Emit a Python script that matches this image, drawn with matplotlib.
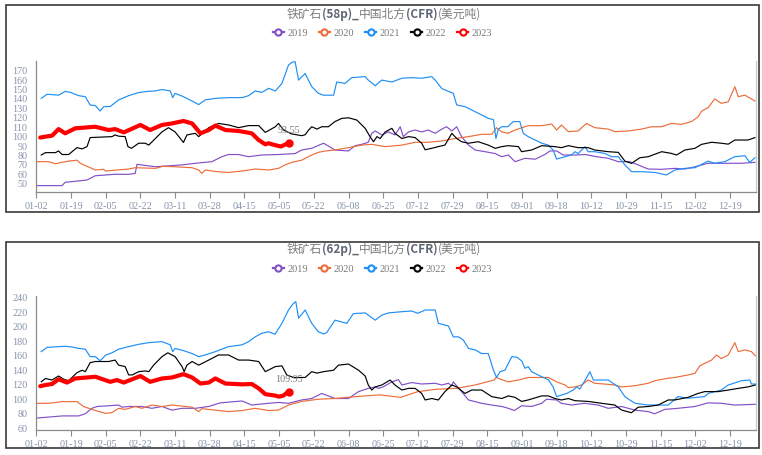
import numpy as np
import matplotlib
matplotlib.use('Agg')
import matplotlib.pyplot as plt
from matplotlib.lines import Line2D
from matplotlib.patches import Rectangle

plt.rcParams['font.family'] = ['Noto Sans CJK SC', 'DejaVu Sans']

years = ['2019', '2020', '2021', '2022', '2023']
colors = ['#8150c8', '#ec6d3a', '#1e8ff5', '#000000', '#ff0000']
date_labels = ['01-02', '01-19', '02-05', '02-22', '03-11', '03-28', '04-15',
               '05-05', '05-22', '06-08', '06-25', '07-12', '07-29', '08-15',
               '09-01', '09-18', '10-12', '10-29', '11-15', '12-02', '12-19']

# x is in label steps (0 = 01-02, 1 = 01-19, ...), y in USD/t
# ---- 58p ----
p58_2019 = [(0.02, 48), (0.74, 48), (0.83, 51.5), (1.22, 53), (1.46, 54), (1.7, 58.5), (2.27, 60), (2.66, 60),
            (2.85, 61), (2.9, 70.6), (3.43, 68), (3.81, 69), (4.2, 70), (4.58, 71.7), (5.06, 73.4), (5.35, 78.7),
            (5.54, 81), (5.83, 81), (6.12, 78.7), (6.5, 80.5), (6.98, 81), (7.46, 82), (7.65, 85.8), (7.94, 87.6),
            (8.28, 93), (8.61, 85.8), (9.0, 84.8), (9.19, 90.4), (9.38, 91.8), (9.57, 94), (9.67, 103.5),
            (9.77, 106), (9.96, 101.8), (10.15, 105), (10.34, 101.8), (10.49, 110.5), (10.58, 100), (10.73, 105),
            (10.92, 107), (11.11, 105), (11.3, 107), (11.5, 103.5), (11.69, 108), (11.83, 110.5), (11.98, 106),
            (12.12, 110.5), (12.26, 100), (12.46, 91), (12.65, 85.8), (12.94, 84), (13.23, 82), (13.42, 78.7),
            (13.61, 80.5), (13.8, 73.4), (14.09, 77), (14.38, 76), (14.66, 81), (14.81, 84.8), (15.0, 84.8),
            (15.19, 80.5), (15.53, 80.5), (15.82, 81), (16.15, 78.7), (16.49, 77), (16.78, 73.4), (17.11, 73.4),
            (17.35, 70), (17.64, 65.6), (18.03, 65.3), (18.41, 66.3), (18.7, 65.6), (18.99, 68), (19.37, 71.7),
            (19.75, 71.7), (20.33, 71.7), (20.72, 72.7)]
p58_2020 = [(0.02, 73.4), (0.35, 73.4), (0.55, 71.2), (0.74, 72.7), (0.93, 74), (1.17, 75), (1.27, 71.6),
            (1.7, 64.6), (1.94, 65.3), (1.99, 63.5), (2.66, 65.6), (2.85, 67), (3.43, 66.3), (3.65, 68.5), (4.0, 68),
            (4.49, 67), (4.68, 64.6), (4.77, 61), (4.87, 64.6), (5.16, 63), (5.54, 62), (5.93, 63.5), (6.31, 65.6),
            (6.7, 64.6), (6.98, 66.3), (7.17, 70), (7.37, 72.7), (7.65, 75), (7.94, 80.5), (8.13, 83.3),
            (8.33, 84.8), (8.61, 85.8), (9.0, 88.3), (9.38, 91), (9.67, 91.8), (10.06, 89.4), (10.54, 91),
            (10.92, 94), (11.3, 94), (11.69, 95.4), (12.07, 98), (12.46, 100), (12.84, 102.5), (13.13, 102.5),
            (13.27, 109.5), (13.42, 105), (13.6, 103.5), (13.8, 107), (14.18, 111.6), (14.57, 111.6),
            (14.86, 113.4), (15.0, 107), (15.14, 112.3), (15.34, 105.3), (15.62, 106), (15.86, 114), (16.1, 109.5),
            (16.49, 108), (16.68, 105.3), (17.07, 106), (17.45, 108), (17.74, 110.5), (18.03, 110.5), (18.31, 114),
            (18.6, 113), (18.89, 116), (19.08, 121), (19.18, 127), (19.37, 130.8), (19.56, 140), (19.75, 135.4),
            (19.95, 137), (20.14, 153), (20.24, 142.4), (20.43, 144), (20.72, 137.8)]
p58_2021 = [(0.14, 140.6), (0.31, 145), (0.64, 144), (0.83, 148), (0.98, 147), (1.22, 143.5), (1.41, 142.4),
            (1.55, 133.6), (1.7, 132.9), (1.84, 127.2), (1.94, 131.8), (2.13, 132), (2.37, 139), (2.66, 143.5),
            (2.95, 146.8), (3.19, 148), (3.43, 148.5), (3.62, 150), (3.86, 148.5), (3.93, 141.4), (4.0, 146),
            (4.24, 142.4), (4.49, 137.8), (4.68, 134), (4.87, 139), (5.16, 140.6), (5.54, 141.4), (5.93, 141.4),
            (6.12, 143.5), (6.31, 148.5), (6.5, 147), (6.7, 151.3), (6.89, 148.4), (7.08, 156.5), (7.27, 176),
            (7.37, 179), (7.46, 179.6), (7.56, 160), (7.75, 167), (7.94, 153), (8.13, 146), (8.28, 144),
            (8.57, 144), (8.66, 158), (8.9, 156.5), (9.09, 162.6), (9.48, 163.7), (9.57, 160), (9.77, 154),
            (9.96, 160), (10.25, 158), (10.54, 162), (10.82, 162.6), (11.11, 162), (11.4, 163.7), (11.5, 160),
            (11.69, 151), (12.02, 146), (12.12, 133.6), (12.36, 131.8), (12.46, 130), (12.65, 126.5), (12.84, 123),
            (13.03, 119.4), (13.18, 118), (13.25, 98), (13.32, 108), (13.42, 110.5), (13.6, 110.6), (13.75, 116),
            (13.94, 116), (14.04, 103.5), (14.18, 100), (14.38, 96.4), (14.57, 93), (14.76, 91), (14.9, 85.8),
            (15.0, 76.2), (15.24, 78.7), (15.43, 80.5), (15.53, 84), (15.62, 82), (15.82, 89.4), (15.91, 84),
            (16.1, 84), (16.39, 82.2), (16.58, 78.7), (16.78, 78.7), (16.97, 70), (17.16, 62.8), (17.45, 62.8),
            (17.83, 62), (18.17, 59.3), (18.41, 64.6), (18.7, 66.3), (18.99, 67), (19.37, 74), (19.56, 71.7),
            (19.85, 73.4), (20.14, 78.7), (20.43, 79.7), (20.57, 72.7), (20.72, 77.6)]
p58_2022 = [(0.14, 80.5), (0.26, 83), (0.55, 83), (0.64, 84.8), (0.74, 81), (0.93, 81), (1.17, 88.3), (1.32, 87),
            (1.46, 89.4), (1.55, 99), (2.18, 100), (2.27, 101.8), (2.37, 100.5), (2.56, 100), (2.64, 89.4),
            (2.74, 87.6), (2.95, 93), (3.14, 93), (3.24, 91), (3.43, 98), (3.62, 105), (3.81, 109.5), (4.0, 105),
            (4.24, 93.8), (4.34, 101.8), (4.58, 103.5), (4.68, 100), (4.97, 109.5), (5.25, 114), (5.54, 112.4),
            (5.83, 109.5), (6.12, 111.7), (6.41, 111.7), (6.6, 104.5), (6.89, 110.5), (6.98, 114), (7.13, 107),
            (7.35, 103), (7.65, 101), (7.75, 102), (7.85, 107), (7.94, 110.5), (8.09, 108), (8.23, 110.5),
            (8.42, 110.5), (8.61, 116), (8.81, 119.4), (9.0, 120), (9.24, 117.6), (9.48, 108.8), (9.62, 100),
            (9.72, 94.6), (9.82, 100), (9.91, 98), (10.06, 105), (10.25, 108.8), (10.34, 103.5), (10.54, 98),
            (10.73, 100), (10.92, 99), (11.11, 93), (11.21, 86), (11.4, 87.6), (11.59, 89.4), (11.78, 91),
            (11.98, 103.5), (12.12, 98), (12.26, 94.6), (12.46, 93), (12.74, 94.6), (13.03, 91), (13.23, 87.6),
            (13.42, 89.4), (13.6, 90.4), (13.9, 89.4), (13.99, 84), (14.28, 85.8), (14.57, 90.4), (14.95, 89.4),
            (15.14, 88.3), (15.34, 90.4), (15.62, 88.3), (15.91, 88.3), (16.1, 85.8), (16.49, 84), (16.78, 83.3),
            (16.97, 74), (17.16, 71.6), (17.4, 77.6), (17.64, 78.7), (18.03, 84), (18.31, 82.2), (18.46, 80.5),
            (18.7, 85.8), (18.99, 87.6), (19.18, 91.8), (19.47, 94), (19.75, 93), (19.95, 92), (20.14, 96.4),
            (20.52, 96.4), (20.72, 99)]
p58_2023 = [(0.11, 99), (0.26, 100), (0.45, 101), (0.64, 108), (0.83, 103.5), (1.12, 108.8), (1.7, 110.5),
            (2.08, 107), (2.27, 108), (2.52, 104.5), (3.0, 112.4), (3.28, 107), (3.62, 112.4), (3.91, 114),
            (4.24, 116.6), (4.49, 114), (4.73, 103.5), (4.97, 107), (5.16, 111.7), (5.45, 107), (5.83, 106),
            (6.21, 103.5), (6.41, 96.4), (6.6, 91.8), (6.69, 93), (6.88, 91), (7.05, 89.5), (7.2, 92), (7.28, 93.55)]

# ---- 62p ----
p62_2019 = [(0.0, 74), (0.74, 77), (1.22, 77), (1.41, 80), (1.6, 87.5), (1.75, 90), (2.08, 91), (2.37, 92),
            (2.47, 89), (2.66, 90), (3.04, 90), (3.33, 87.5), (3.62, 90), (3.91, 85), (4.2, 87.5), (4.58, 87.5),
            (4.97, 90), (5.3, 95), (5.54, 96), (5.93, 97.6), (6.21, 92), (6.5, 93.5), (6.98, 95.6), (7.27, 94.4),
            (7.65, 99), (7.94, 101), (8.23, 108), (8.61, 101), (9.0, 101), (9.29, 110.5), (9.57, 115), (9.77, 117),
            (9.86, 115), (10.0, 117), (10.25, 124), (10.44, 127), (10.54, 119.6), (10.82, 123), (11.11, 121),
            (11.5, 122), (11.69, 119.6), (11.88, 122), (11.98, 118.5), (12.02, 124), (12.26, 110.5), (12.46, 99),
            (12.84, 94.4), (13.13, 92), (13.42, 90), (13.61, 87.5), (13.78, 84.4), (13.99, 91), (14.28, 90),
            (14.57, 94.4), (14.71, 100), (15.0, 99), (15.14, 94.4), (15.43, 92), (15.8, 94.4), (16.2, 92),
            (16.49, 87.5), (16.87, 90), (17.26, 85), (17.64, 83), (17.83, 80), (18.12, 86), (18.5, 87.5),
            (18.99, 90), (19.37, 95), (19.75, 94.4), (20.14, 92), (20.73, 93)]
p62_2020 = [(0.02, 94.4), (0.35, 94.4), (0.74, 96.7), (1.17, 96.7), (1.36, 90), (1.6, 86), (1.8, 83), (1.99, 80.6),
            (2.18, 81.5), (2.37, 87.5), (2.56, 86), (2.85, 90), (3.04, 87.5), (3.33, 92), (3.62, 90), (3.91, 92),
            (4.2, 90.6), (4.49, 89), (4.68, 83), (4.77, 87), (5.16, 85), (5.54, 83), (5.93, 84.4), (6.31, 87.5),
            (6.7, 84.4), (6.98, 85), (7.27, 92), (7.65, 97), (8.13, 100), (8.6, 101), (9.2, 103.6), (9.9, 106),
            (10.5, 102.6), (11.0, 110.5), (11.5, 113.6), (12.1, 115), (12.65, 119.6), (13.2, 126.5), (13.25, 130),
            (13.45, 126.5), (13.6, 124), (13.9, 126.5), (14.18, 130), (14.76, 130), (15.0, 124), (15.24, 119.6),
            (15.34, 116), (15.53, 117), (15.72, 119.6), (15.91, 126.5), (16.1, 122), (16.49, 120.5),
            (16.68, 119.6), (16.87, 117), (17.26, 118.6), (17.64, 122), (17.83, 125.5), (18.22, 129), (18.41, 130),
            (18.79, 133.5), (18.99, 135.8), (19.13, 146), (19.27, 149.5), (19.47, 154), (19.61, 161), (19.75, 156),
            (19.95, 161), (20.14, 178), (20.24, 165.6), (20.43, 168), (20.62, 165.6), (20.73, 160)]
p62_2021 = [(0.14, 165.6), (0.31, 171.5), (0.64, 172.5), (0.83, 173), (1.03, 172), (1.22, 170), (1.41, 169),
            (1.55, 158.7), (1.7, 158.7), (1.84, 153), (2.0, 161), (2.18, 164), (2.37, 169), (2.66, 172.5),
            (2.95, 175.7), (3.24, 178), (3.62, 179.4), (3.86, 175), (3.93, 165.6), (4.0, 170), (4.24, 167),
            (4.49, 163), (4.68, 158.7), (4.87, 161), (5.16, 165.6), (5.54, 172.5), (5.93, 175), (6.12, 179.4),
            (6.31, 186), (6.5, 191), (6.7, 193), (6.88, 189.5), (7.08, 204.6), (7.27, 223), (7.41, 232),
            (7.48, 234.5), (7.56, 211.7), (7.75, 223), (7.94, 204.6), (8.13, 193), (8.28, 190), (8.37, 191.8),
            (8.61, 209), (8.95, 204.6), (9.14, 218), (9.48, 219), (9.57, 216), (9.77, 209), (9.96, 216),
            (10.15, 219), (10.54, 220.7), (10.82, 221.6), (11.0, 218.5), (11.21, 223), (11.5, 223), (11.59, 204.6),
            (11.88, 201), (12.02, 186), (12.17, 186), (12.31, 181.6), (12.46, 170), (12.65, 168), (12.84, 163),
            (13.03, 163), (13.18, 140), (13.27, 130), (13.37, 138), (13.51, 140), (13.71, 158.7), (13.85, 158),
            (13.99, 153), (14.09, 142.7), (14.18, 145), (14.28, 138), (14.38, 135.6), (14.57, 131), (14.76, 127),
            (14.9, 117), (15.0, 103.6), (15.29, 108), (15.48, 112.7), (15.58, 117), (15.67, 114), (15.82, 126),
            (15.96, 138), (16.06, 126.5), (16.49, 126.5), (16.78, 117), (16.97, 103.6), (17.11, 99), (17.26, 94.4),
            (17.64, 92), (18.22, 92), (18.5, 103.6), (18.79, 101.5), (19.27, 103.6), (19.37, 108), (19.75, 112.7),
            (19.95, 119.6), (20.33, 125.5), (20.57, 126.5), (20.62, 121), (20.73, 121)]
p62_2022 = [(0.14, 124), (0.26, 128.6), (0.45, 126.5), (0.64, 132), (0.79, 127.5), (0.93, 125.5), (1.17, 136.6),
            (1.32, 140), (1.41, 138), (1.55, 150.4), (1.7, 152), (2.08, 152), (2.27, 154), (2.37, 147), (2.56, 145),
            (2.66, 133.5), (2.76, 133.5), (2.95, 138), (3.14, 139), (3.24, 138), (3.38, 147), (3.62, 158.7),
            (3.79, 164), (4.0, 158.7), (4.2, 145), (4.26, 138), (4.34, 147), (4.49, 152), (4.68, 147), (4.97, 154),
            (5.25, 161), (5.54, 161), (5.83, 154), (6.12, 154), (6.41, 152), (6.6, 138), (6.89, 145), (7.08, 146),
            (7.22, 133.5), (7.41, 130), (7.75, 130), (7.94, 138), (8.09, 136), (8.28, 138), (8.57, 140), (8.71, 147),
            (9.0, 148.5), (9.29, 140), (9.48, 132), (9.57, 119.6), (9.67, 112.7), (9.77, 117), (9.96, 119.6),
            (10.2, 126.5), (10.34, 119.6), (10.54, 112.7), (10.73, 115), (10.92, 115), (11.11, 108), (11.21, 99),
            (11.4, 101), (11.59, 99), (11.78, 110.5), (11.98, 119.6), (12.12, 117), (12.36, 108), (12.55, 112.7),
            (12.84, 112.7), (13.13, 103.6), (13.42, 101), (13.61, 104.6), (13.8, 102.6), (13.99, 97), (14.18, 99),
            (14.57, 104.6), (14.76, 104.6), (14.95, 101), (15.14, 99), (15.34, 101), (15.53, 98), (15.91, 97),
            (16.3, 94.4), (16.68, 92), (16.87, 85.2), (17.16, 81.4), (17.35, 89), (17.64, 90), (17.93, 92),
            (18.22, 99), (18.41, 99), (18.79, 102.6), (19.08, 108), (19.27, 110.5), (19.66, 110.5), (19.95, 112.7),
            (20.24, 115), (20.52, 117), (20.73, 119.6)]
p62_2023 = [(0.11, 118), (0.26, 119.6), (0.45, 121), (0.64, 127.5), (0.88, 123), (1.12, 128.6), (1.7, 131),
            (2.13, 124), (2.32, 126.5), (2.52, 123), (3.0, 132), (3.28, 124), (3.62, 128.6), (3.91, 130),
            (4.24, 134.6), (4.49, 130), (4.73, 121.7), (4.97, 123), (5.16, 128.6), (5.45, 121.7), (5.93, 120.5),
            (6.21, 121), (6.41, 115), (6.6, 107), (6.89, 105), (7.0, 103.5), (7.12, 105), (7.2, 108), (7.27, 109.95)]

# title pieces: (text, bold?)
title58 = [('铁矿石', False), ('(58p)_', True), ('中国北方', False), ('(CFR)', True), ('(美元吨)', False)]
title62 = [('铁矿石', False), ('(62p)_', True), ('中国北方', False), ('(CFR)', True), ('(美元吨)', False)]

panels = [
    (title58, [p58_2019, p58_2020, p58_2021, p58_2022, p58_2023], np.arange(50, 171, 10), (40.9, 180.6)),
    (title62, [p62_2019, p62_2020, p62_2021, p62_2022, p62_2023], np.arange(60, 241, 20), (57.6, 242.3)),
]

W, H = 762, 455
fig = plt.figure(figsize=(W / 100, H / 100), dpi=100)
renderer = fig.canvas.get_renderer()

# pixel boxes: (frame top, frame bottom, axes top, axes bottom, title y, legend y)
boxes = [(5, 212, 60.7, 192.3, 14, 33), (241.7, 448, 296, 430, 249, 269)]

tick_col = '#8593aa'
for (title, series, yticks, ylim), (ft, fb, at, ab, ty, ly) in zip(panels, boxes):
    fig.patches.append(Rectangle((6 / W, 1 - fb / H), 753 / W, (fb - ft) / H, transform=fig.transFigure,
                                 fill=False, edgecolor='#3a3a3a', lw=1.2))
    ax = fig.add_axes([35.7 / W, 1 - ab / H, (756 - 35.7) / W, (ab - at) / H])
    for s, c, yr in zip(series, colors, years):
        xs, ys = np.array(s).T
        if yr == '2023':
            ax.plot(xs, ys, color=c, lw=3.0, solid_capstyle='round', solid_joinstyle='round', zorder=5)
            ax.plot(xs[-1], ys[-1], 'o', color=c, ms=5, zorder=6)
            ax.annotate(f'{ys[-1]:.2f}', (xs[-1], ys[-1]), xytext=(0, 9), textcoords='offset points',
                        ha='center', va='center', fontsize=7.3, color='#7a7a7a', family='Liberation Serif')
        else:
            ax.plot(xs, ys, color=c, lw=0.85)
    ax.set_xlim(-0.02, 20.75)
    ax.set_ylim(*ylim)
    ax.set_xticks(range(len(date_labels)))
    ax.set_xticklabels(date_labels)
    ax.set_yticks(yticks)
    ax.tick_params(axis='x', length=4, width=0.8, color='#8a8a8a', pad=3, labelsize=7.3,
                   labelcolor=tick_col, labelfontfamily='Liberation Serif')
    ax.tick_params(axis='y', length=0, pad=6, labelsize=7.3, labelcolor=tick_col,
                   labelfontfamily='Liberation Serif')
    ax.spines['top'].set_visible(False)
    ax.spines['right'].set_color('#c8c8c8')
    ax.spines['left'].set_color('#8a8a8a')
    ax.spines['bottom'].set_color('#8a8a8a')
    for sp in ax.spines.values():
        sp.set_linewidth(0.9)

    # title drawn piece by piece, normal CJK parts and bold latin parts
    pieces = []
    for txt, bold in title:
        t = fig.text(0, 1 - ty / H, txt, ha='left', va='center', fontsize=8.5,
                     color='#5d6675' if bold else '#7d7d7d', fontweight='bold' if bold else 'normal')
        pieces.append(t)
    widths = [p.get_window_extent(renderer).width for p in pieces]
    x0 = 384 - sum(widths) / 2
    for p, w in zip(pieces, widths):
        p.set_x(x0 / W)
        x0 += w

    handles = [Line2D([], [], color=c, lw=1.6, marker='o', ms=4.5, mfc='white', mew=1.5) for c in colors]
    fig.legend(handles, years, loc='center', bbox_to_anchor=(0.502, 1 - ly / H), ncol=5, frameon=False,
               prop={'family': 'Liberation Serif', 'size': 7.5}, labelcolor='#7a7a7a',
               handlelength=1.1, handletextpad=0.35, columnspacing=1.0, borderpad=0)

fig.savefig('out.png', dpi=100)
